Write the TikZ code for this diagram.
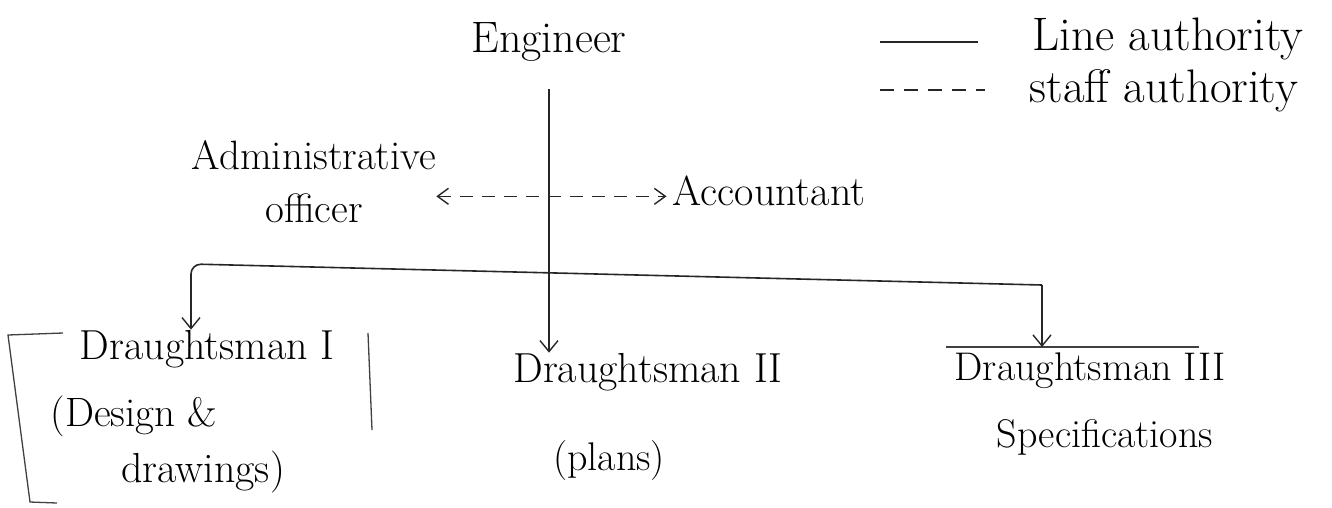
\documentclass[tikz,border=0pt]{standalone}
\usetikzlibrary{arrows.meta}
\begin{document}
\begin{tikzpicture}[x=1pt,y=-1pt,
  txt/.style={inner sep=0pt, font=\fontsize{40}{48}\selectfont},
  big/.style={inner sep=0pt, font=\fontsize{44}{52}\selectfont},
  leg/.style={inner sep=0pt, font=\fontsize{47}{54}\selectfont},
  ln/.style={line width=1.6pt, black!85},
  legln/.style={line width=2.6pt, black!85},
  arr/.style={ln, -{Straight Barb[length=11pt,width=18pt,line width=1.4pt]}},
  dasharr/.style={ln, dash pattern=on 13pt off 9pt, {Straight Barb[length=11pt,width=16pt,line width=1.4pt]}-{Straight Barb[length=11pt,width=16pt,line width=1.4pt]}},
  brk/.style={line width=1.3pt, black!75}]
\useasboundingbox (0,0) rectangle (1332,507);

% legend
\node[leg, anchor=base] (lineleg) at (1168,50) {Line authority};
\node[leg, anchor=base] (staffleg) at (1164,102) {staff authority};
\coordinate (ls1) at (880,42); \coordinate (ls2) at (978,42);
\coordinate (ld1) at (880,90); \coordinate (ld2) at (985,90);
\draw[legln] (ls1) -- (ls2);
\draw[legln, dash pattern=on 14pt off 10pt] (ld1) -- (ld2);

% nodes
\node[big, anchor=base] (eng) at (549,52) {Engineer};
\node[txt, align=center, font=\fontsize{41}{53}\selectfont] (adm) at (314,182) {Administrative\\officer};
\node[txt, font=\fontsize{42}{48}\selectfont, anchor=base] (acc) at (769,205) {Accountant};
\node[txt, font=\fontsize{42}{48}\selectfont, anchor=base] (d1) at (207,359) {Draughtsman I};
\node[txt, font=\fontsize{41}{48}\selectfont, anchor=base] (d1b) at (134,426) {(Design \&};
\node[txt, font=\fontsize{42}{48}\selectfont, anchor=base] (d1c) at (203,482) {drawings)};
\node[txt, font=\fontsize{42}{48}\selectfont, anchor=base] (d2) at (648,382) {Draughtsman II};
\node[txt, anchor=base] (d2b) at (609,470) {(plans)};
\node[txt, anchor=base] (d3) at (1090,380) {Draughtsman III};
\node[txt, anchor=base] (d3b) at (1105,447) {Specifications};

% box strokes
\coordinate (b1) at (63,333); \coordinate (b2) at (8,335);
\coordinate (b3) at (30,502); \coordinate (b4) at (57,503);
\draw[brk] (b1) -- (b2) -- (b3) -- (b4);
\coordinate (b5) at (368,333); \coordinate (b6) at (372,430);
\draw[brk] (b5) -- (b6);
\coordinate (d3l) at (946,347); \coordinate (d3r) at (1199,347);
\draw[brk] (d3l) -- (d3r);

% line authority
\draw[arr] ([yshift=-28pt]eng.south) -- (eng.south |- d2.north);
\coordinate (bl) at (191,264);
\coordinate (br) at (1042,285);
\draw[arr, rounded corners=10pt] (br) -- (bl) -- (bl |- d1.north);
\draw[arr] (br) -- (br |- d3l);

% staff authority
\path ([xshift=-6pt,yshift=-6pt]acc.west) coordinate (accw);
\draw[dasharr] (accw -| adm.east) -- (accw);
\end{tikzpicture}
\end{document}
